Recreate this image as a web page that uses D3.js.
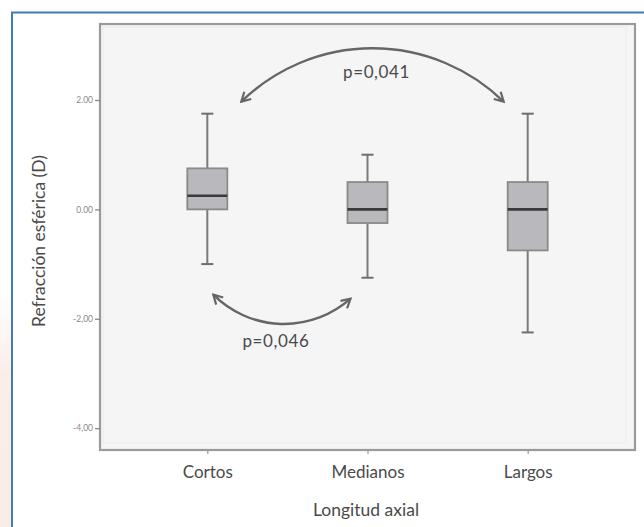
<!DOCTYPE html>
<html><head><meta charset="utf-8">
<script src="https://cdn.jsdelivr.net/npm/d3@7"></script>
<style>
html,body{margin:0;padding:0;background:#fff;}
svg{display:block;}
</style></head>
<body>
<svg id="chart" width="644" height="527"></svg>
<script>
// ---- data ----
const categories = ["Cortos", "Medianos", "Largos"];
const whiskerLow  = [-1.0, -1.25, -2.25];
const q1          = [0.0, -0.25, -0.75];
const medians     = [0.25, 0.0, 0.0];
const q3          = [0.75, 0.5, 0.5];
const whiskerHigh = [1.75, 1.0, 1.75];
const yTicks = [2, 0, -2, -4];
const yTickLabels = ["2.00", "0.00", "-2,00", "-4,00"];
const comparisons = [
  {from: "Cortos", to: "Largos", label: "p=0,041", side: "top"},
  {from: "Cortos", to: "Medianos", label: "p=0,046", side: "bottom"}
];
const xTitle = "Longitud axial";
const yTitle = "Refracción esférica (D)";

const font = "Lato, 'Open Sans', sans-serif";
const svg = d3.select("#chart");

// background decor
const defs = svg.append("defs");
const grad = defs.append("linearGradient").attr("id","pinkfade").attr("x1",0).attr("y1",0).attr("x2",0).attr("y2",1);
grad.append("stop").attr("offset","0").attr("stop-color","#fbeee9").attr("stop-opacity",0);
grad.append("stop").attr("offset","0.35").attr("stop-color","#fbeee9").attr("stop-opacity",1);
grad.append("stop").attr("offset","1").attr("stop-color","#faece6").attr("stop-opacity",1);
svg.append("rect").attr("x",0).attr("y",290).attr("width",11).attr("height",237).attr("fill","url(#pinkfade)");
svg.append("line").attr("x1",11).attr("x2",644).attr("y1",12.5).attr("y2",12.5).attr("stroke","#3f7db3").attr("stroke-width",2);
svg.append("line").attr("x1",12).attr("x2",12).attr("y1",12).attr("y2",527).attr("stroke","#3f7db3").attr("stroke-width",2);

// plot area
const L = 100, R = 635, T = 24, B = 450;
const y = d3.scaleLinear().domain([-4.4, 3.39]).range([B, T]);
const x = d3.scalePoint().domain(categories).range([L, R]).padding(0.67);

svg.append("rect").attr("x",L).attr("y",T).attr("width",R-L).attr("height",B-T)
  .attr("fill","#f5f5f5").attr("stroke","#9a9a9a").attr("stroke-width",2.2);
svg.append("rect").attr("x",L+3).attr("y",T+3).attr("width",R-L-12).attr("height",B-T-10)
  .attr("fill","none").attr("stroke","#ececec").attr("stroke-width",1);

// y axis
const yAxis = d3.axisLeft(y).tickValues(yTicks).tickSize(5).tickPadding(2)
  .tickFormat((d,i) => yTickLabels[i]);
const gy = svg.append("g").attr("transform",`translate(${L},0)`).call(yAxis);
gy.select(".domain").remove();
gy.selectAll(".tick line").attr("stroke","#888").attr("stroke-width",1.3);
gy.selectAll(".tick text").attr("fill","#888").attr("font-size",8.5).attr("font-family",font);

// x axis
const xAxis = d3.axisBottom(x).tickSize(4).tickPadding(12);
const gx = svg.append("g").attr("transform",`translate(0,${B})`).call(xAxis);
gx.select(".domain").remove();
gx.selectAll(".tick line").attr("stroke","#999").attr("stroke-width",1.2);
gx.selectAll(".tick text").attr("fill","#4a4a4a").attr("font-size",17).attr("font-family",font);

// titles
svg.append("text").attr("x",366).attr("y",516).attr("text-anchor","middle")
  .attr("font-family",font).attr("font-size",17.5).attr("fill","#4a4a4a").text(xTitle);
svg.append("text").attr("transform","translate(45,241) rotate(-90)").attr("text-anchor","middle")
  .attr("font-family",font).attr("font-size",17.5).attr("fill","#4a4a4a").text(yTitle);

// boxes
const boxW = 40, capW = 12;
const boxes = categories.map((c,i) => ({c, lo: whiskerLow[i], q1: q1[i], med: medians[i], q3: q3[i], hi: whiskerHigh[i]}));
const gb = svg.append("g").selectAll("g").data(boxes).join("g")
  .attr("transform", d => `translate(${x(d.c)},0)`);
gb.append("line").attr("x1",0).attr("x2",0).attr("y1",d=>y(d.hi)).attr("y2",d=>y(d.q3))
  .attr("stroke","#7a7a7a").attr("stroke-width",2);
gb.append("line").attr("x1",0).attr("x2",0).attr("y1",d=>y(d.q1)).attr("y2",d=>y(d.lo))
  .attr("stroke","#7a7a7a").attr("stroke-width",2);
gb.append("line").attr("x1",-capW/2).attr("x2",capW/2).attr("y1",d=>y(d.hi)).attr("y2",d=>y(d.hi))
  .attr("stroke","#6e6e6e").attr("stroke-width",2);
gb.append("line").attr("x1",-capW/2).attr("x2",capW/2).attr("y1",d=>y(d.lo)).attr("y2",d=>y(d.lo))
  .attr("stroke","#6e6e6e").attr("stroke-width",2);
gb.append("rect").attr("x",-boxW/2).attr("width",boxW)
  .attr("y",d=>y(d.q3)).attr("height",d=>y(d.q1)-y(d.q3))
  .attr("fill","#b9b9bd").attr("stroke","#8a8a8a").attr("stroke-width",1.8);
gb.append("line").attr("x1",-boxW/2).attr("x2",boxW/2).attr("y1",d=>y(d.med)).attr("y2",d=>y(d.med))
  .attr("stroke","#3a3a3a").attr("stroke-width",2.6);

// comparison arcs
defs.append("marker").attr("id","arrow").attr("viewBox","0 0 12 12").attr("refX",10).attr("refY",6)
  .attr("markerWidth",12).attr("markerHeight",12).attr("markerUnits","userSpaceOnUse").attr("orient","auto-start-reverse")
  .append("path").attr("d","M1,1 L10,6 L1,11").attr("fill","none").attr("stroke","#666").attr("stroke-width",2.2);

const topCfg = {dxL: 34, dxR: -24, yEnd: y(1.97), r: 188, sweep: 1, textY: 78};
const botCfg = {dxL: 6, dxR: -17, yEnd: y(-1.56), r: 100, sweep: 0, textY: 347};
comparisons.forEach(cmp => {
  const cfg = cmp.side === "top" ? topCfg : botCfg;
  const x1 = x(cmp.from) + cfg.dxL, x2 = x(cmp.to) + cfg.dxR;
  const y1 = cfg.yEnd, y2 = cmp.side === "top" ? cfg.yEnd : cfg.yEnd + 4;
  svg.append("path")
    .attr("d", `M${x1},${y1} A${cfg.r},${cfg.r} 0 0 ${cfg.sweep} ${x2},${y2}`)
    .attr("fill","none").attr("stroke","#666").attr("stroke-width",2.4)
    .attr("marker-start","url(#arrow)").attr("marker-end","url(#arrow)");
  svg.append("text").attr("x",(x1+x2)/2 + (cmp.side==="top"?4:-6)).attr("y",cfg.textY)
    .attr("text-anchor","middle").attr("font-family",font).attr("font-size",17).attr("fill","#4a4a4a")
    .attr("letter-spacing",0.6)
    .text(cmp.label);
});
</script>
</body></html>
